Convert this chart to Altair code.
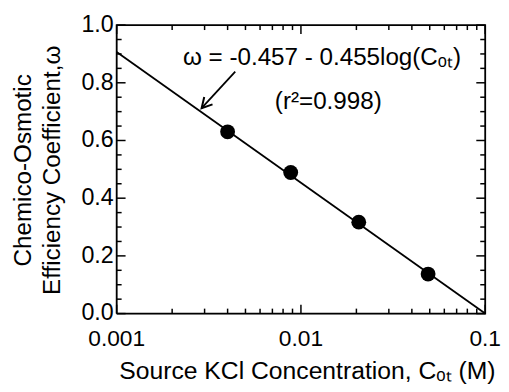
import altair as alt
import pandas as pd

# measured data
conc = [0.004, 0.0088, 0.0206, 0.049]
omega = [0.630, 0.489, 0.317, 0.137]

# fitted line endpoints
fit_x = [0.001, 0.1]
fit_y = [0.907, 0.0]

x_tick_values = [0.001, 0.01, 0.1]
x_tick_labels = ["0.001", "0.01", "0.1"]
x_minor = [2e-3, 3e-3, 4e-3, 5e-3, 6e-3, 7e-3, 8e-3, 9e-3,
           2e-2, 3e-2, 4e-2, 5e-2, 6e-2, 7e-2, 8e-2, 9e-2]
y_tick_values = [0.0, 0.2, 0.4, 0.6, 0.8, 1.0]
y_tick_labels = ["0.0", "0.2", "0.4", "0.6", "0.8", "1.0"]
y_minor = [0.05, 0.1, 0.15, 0.25, 0.3, 0.35, 0.45, 0.5, 0.55,
           0.65, 0.7, 0.75, 0.85, 0.9, 0.95]

eq_text = "ω = -0.457 - 0.455log(Cₒₜ)"
r2_text = "(r²=0.998)"
eq_pos = (0.00229, 0.863)
r2_pos = (0.00722, 0.709)
arrow_tail = (0.0044, 0.839)
arrow_tip = (0.00289, 0.712)

x_title = "Source KCl Concentration, Cₒₜ (M)"
y_title = ["Chemico-Osmotic", "Efficiency Coefficient,ω"]

W, H = 373, 292
FONT = "Liberation Sans"
X_DOM = [0.001, 0.1]
Y_DOM = [0.0, 1.0]

xs = alt.Scale(type="log", domain=X_DOM)
ys = alt.Scale(domain=Y_DOM)

DECADE_PX = W / 2.0


def x_len(px):
    return 10 ** (px / DECADE_PX)


def y_len(px):
    return px / H * (Y_DOM[1] - Y_DOM[0])


def X():
    return alt.X("c:Q", scale=xs, axis=None)


def Y():
    return alt.Y("w:Q", scale=ys, axis=None)


pts = pd.DataFrame({"c": conc, "w": omega})
fit = pd.DataFrame({"c": fit_x, "w": fit_y})

frame_df = pd.DataFrame({"c": [X_DOM[0], X_DOM[1], X_DOM[1], X_DOM[0], X_DOM[0]],
                         "w": [Y_DOM[0], Y_DOM[0], Y_DOM[1], Y_DOM[1], Y_DOM[0]],
                         "o": [0, 1, 2, 3, 4]})
frame = alt.Chart(frame_df).mark_line(color="black", strokeWidth=1.8).encode(
    x=X(), y=Y(), order="o:Q")

line = alt.Chart(fit).mark_line(color="black", strokeWidth=1.8).encode(x=X(), y=Y())
points = alt.Chart(pts).mark_point(filled=True, color="black", size=225, opacity=1).encode(x=X(), y=Y())


def xticks(vals, top, px):
    y0 = Y_DOM[1] if top else Y_DOM[0]
    y1 = y0 - y_len(px) if top else y0 + y_len(px)
    df = pd.DataFrame({"c": vals, "w": [y0] * len(vals), "w2": [y1] * len(vals)})
    return alt.Chart(df).mark_rule(color="black", strokeWidth=1.5).encode(
        x=X(), y=Y(), y2="w2:Q")


def yticks(vals, right, px):
    x0 = X_DOM[1] if right else X_DOM[0]
    x1 = x0 / x_len(px) if right else x0 * x_len(px)
    df = pd.DataFrame({"w": vals, "c": [x0] * len(vals), "c2": [x1] * len(vals)})
    return alt.Chart(df).mark_rule(color="black", strokeWidth=1.5).encode(
        y=Y(), x=X(), x2="c2:Q")


tick_layers = [
    xticks(x_tick_values, False, 9), xticks(x_minor, False, 5),
    xticks(x_tick_values, True, 9), xticks(x_minor, True, 5),
    yticks(y_tick_values, False, 9), yticks(y_minor, False, 5),
    yticks(y_tick_values, True, 9), yticks(y_minor, True, 5),
]

xlab = alt.Chart(pd.DataFrame({"c": x_tick_values, "t": x_tick_labels})).mark_text(
    align="center", baseline="alphabetic", fontSize=23, font=FONT, color="black").encode(
    x=X(), y=alt.value(H + 33), text="t:N")
ylab = alt.Chart(pd.DataFrame({"w": y_tick_values, "t": y_tick_labels})).mark_text(
    align="right", baseline="middle", fontSize=23.5, font=FONT, color="black").encode(
    y=Y(), x=alt.value(-3), text="t:N")

one = pd.DataFrame({"k": [0]})
xtitle = alt.Chart(one).mark_text(align="center", baseline="alphabetic", fontSize=25, font=FONT,
                                  color="black", text=x_title).encode(x=alt.value(193), y=alt.value(H + 66))
ytitle1 = alt.Chart(one).mark_text(align="center", baseline="middle", fontSize=24.5, font=FONT,
                                   color="black", angle=270, text=y_title[0]).encode(
    x=alt.value(-94), y=alt.value(147))
ytitle2 = alt.Chart(one).mark_text(align="center", baseline="middle", fontSize=24.5, font=FONT,
                                   color="black", angle=270, text=y_title[1]).encode(
    x=alt.value(-64), y=alt.value(147))

ann = pd.DataFrame({"c": [eq_pos[0], r2_pos[0]], "w": [eq_pos[1], r2_pos[1]], "t": [eq_text, r2_text]})
texts = alt.Chart(ann).mark_text(align="left", baseline="alphabetic", fontSize=24.5, font=FONT,
                                 color="black").encode(x=X(), y=Y(), text="t:N")

arr = pd.DataFrame({"c": [arrow_tail[0], arrow_tip[0]], "w": [arrow_tail[1], arrow_tip[1]]})
arrow_line = alt.Chart(arr).mark_line(color="black", strokeWidth=1.8).encode(x=X(), y=Y())
head = pd.DataFrame({"c": [arrow_tip[0]], "w": [arrow_tip[1]]})
arrow_head = alt.Chart(head).mark_point(shape="M -0.55,1 L 0,0 L 0.55,1", filled=False, color="black",
                                        strokeWidth=2, size=420, angle=222, opacity=1).encode(x=X(), y=Y())

# text layers first, frame and ticks drawn last (on top)
chart = alt.layer(xlab, ylab, xtitle, ytitle1, ytitle2, texts, line, arrow_line, arrow_head, points,
                  frame, *tick_layers).properties(
    width=W, height=H,
    padding={"left": 3, "top": 3, "right": 0, "bottom": 0},
).configure_view(stroke="black", strokeWidth=1.8).configure(background="white")

chart.save("out.html", embed_options={"renderer": "svg", "actions": False})
